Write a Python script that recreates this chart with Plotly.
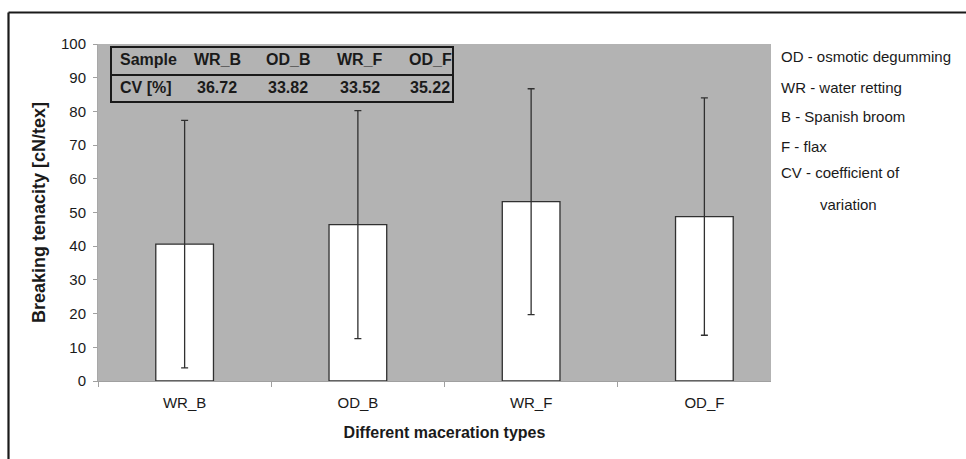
import plotly.graph_objects as go

# ---- data ----
categories = ["WR_B", "OD_B", "WR_F", "OD_F"]
mean_tenacity = [40.6, 46.4, 53.2, 48.8]
cv_percent = [36.72, 33.82, 33.52, 35.22]
table_row_labels = ["Sample", "CV [%]"]
legend_lines = ["OD - osmotic degumming", "WR - water retting", "B - Spanish broom",
                "F - flax", "CV - coefficient of", "variation"]
y_ticks = list(range(0, 101, 10))

# ---- geometry (pixels) ----
W, H = 966, 459
PL, PR, PT, PB = 98, 791, 44, 381   # plot area in pixels


def px(x):
    return (x - PL) / (PR - PL)


def py(y):
    return (PB - y) / (PB - PT)


FONT = "Liberation Sans, Arial, sans-serif"
TXT = "#1a1a1a"
GRAY = "#b3b3b3"

fig = go.Figure()
fig.add_trace(go.Bar(
    x=categories, y=mean_tenacity, width=0.333,
    marker=dict(color="white", line=dict(color="#303030", width=1.3)),
    error_y=dict(type="data", array=cv_percent, symmetric=True,
                 color="#303030", thickness=1.3, width=3.5),
    showlegend=False, hoverinfo="skip",
))

shapes = []
# white box covering right part of plot area (legend box)
shapes.append(dict(type="rect", xref="paper", yref="paper",
                   x0=px(771), x1=px(990), y0=py(480), y1=py(-20),
                   fillcolor="white", line=dict(width=0), layer="above"))
# table box
shapes.append(dict(type="rect", xref="paper", yref="paper",
                   x0=px(111), x1=px(453), y0=py(102), y1=py(47),
                   line=dict(color="#1a1a1a", width=2), layer="above"))
shapes.append(dict(type="line", xref="paper", yref="paper",
                   x0=px(111), x1=px(453), y0=py(75), y1=py(75),
                   line=dict(color="#1a1a1a", width=2), layer="above"))
# outer frame (left and top)
shapes.append(dict(type="line", xref="paper", yref="paper",
                   x0=px(8.5), x1=px(8.5), y0=py(12.5), y1=py(470),
                   line=dict(color="#1a1a1a", width=2.2), layer="above"))
shapes.append(dict(type="line", xref="paper", yref="paper",
                   x0=px(8.5), x1=px(980), y0=py(12.5), y1=py(12.5),
                   line=dict(color="#1a1a1a", width=2.2), layer="above"))

annotations = []
col_centers = [217, 288, 360, 430]
row_y = [59.5, 88]
for r, label in enumerate(table_row_labels):
    annotations.append(dict(text=label, x=px(118), y=py(row_y[r]), xref="paper", yref="paper",
                            xanchor="left", yanchor="middle", showarrow=False,
                            font=dict(family=FONT, size=16, color=TXT, weight="bold")))
for i, cat in enumerate(categories):
    annotations.append(dict(text=cat, x=px(col_centers[i]), y=py(row_y[0]), xref="paper", yref="paper",
                            xanchor="center", yanchor="middle", showarrow=False,
                            font=dict(family=FONT, size=16, color=TXT, weight="bold")))
    annotations.append(dict(text=f"{cv_percent[i]:.2f}", x=px(col_centers[i]), y=py(row_y[1]),
                            xref="paper", yref="paper", xanchor="center", yanchor="middle",
                            showarrow=False,
                            font=dict(family=FONT, size=16, color=TXT, weight="bold")))

leg_y = [56.7, 87.7, 116.7, 146.7, 172.7, 205]
leg_x = [779, 779, 779, 779, 779, 818]
for t, lx, ly in zip(legend_lines, leg_x, leg_y):
    annotations.append(dict(text=t, x=px(lx), y=py(ly), xref="paper", yref="paper",
                            xanchor="left", yanchor="middle", showarrow=False,
                            font=dict(family=FONT, size=15, color=TXT)))

fig.update_layout(
    width=W, height=H,
    margin=dict(l=PL, r=W - PR, t=PT, b=H - PB, pad=0),
    paper_bgcolor="white", plot_bgcolor=GRAY,
    font=dict(family=FONT, color=TXT, size=15),
    shapes=shapes, annotations=annotations,
    xaxis=dict(type="category", range=[-0.5, 3.5], tickson="boundaries",
               ticks="outside", ticklen=5, tickcolor="#a0a0a0",
               ticklabelstandoff=8,
               showline=True, linecolor="#a0a0a0", linewidth=1,
               showgrid=False, zeroline=False,
               tickfont=dict(family=FONT, size=15, color=TXT),
               title=dict(text="Different maceration types", standoff=16,
                          font=dict(family=FONT, size=16, color=TXT, weight="bold"))),
    yaxis=dict(range=[0, 100], tickvals=y_ticks, ticks="outside", ticklen=4,
               ticklabelstandoff=4,
               tickcolor="#a0a0a0", showline=True, linecolor="#a8a8a8", linewidth=1,
               showgrid=False, zeroline=False,
               tickfont=dict(family=FONT, size=15, color=TXT),
               title=dict(text="Breaking tenacity [cN/tex]", standoff=10,
                          font=dict(family=FONT, size=18, color=TXT, weight="bold"))),
)

fig.write_html(
    "out.html",
    config={"displayModeBar": False},
    post_script="document.body.style.margin='0';document.body.style.overflow='hidden';",
)
